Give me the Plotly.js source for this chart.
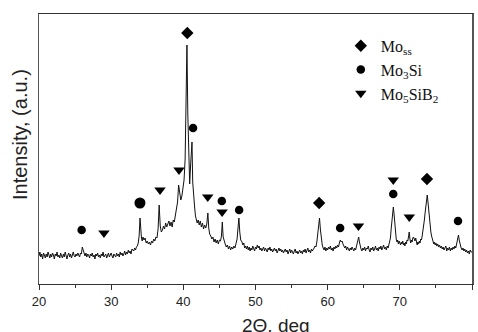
<!DOCTYPE html>
<html>
<head>
<meta charset="utf-8">
<script src="https://cdn.plot.ly/plotly-3.0.1.min.js"></script>
<style>html,body{margin:0;padding:0;background:#fff;}#chart{width:478px;height:332px;}</style>
</head>
<body>
<div id="chart"></div>
<script>
// XRD pattern: 2-theta (deg) and intensity (arbitrary units)
const twoTheta = [
 20,20.125,20.25,20.375,20.5,20.625,20.75,20.875,
 21,21.125,21.25,21.375,21.5,21.625,21.75,21.875,
 22,22.125,22.25,22.375,22.5,22.625,22.75,22.875,
 23,23.125,23.25,23.375,23.5,23.625,23.75,23.875,
 24,24.125,24.25,24.375,24.5,24.625,24.75,24.875,
 25,25.125,25.25,25.375,25.5,25.625,25.75,25.875,
 26,26.125,26.25,26.375,26.5,26.625,26.75,26.875,
 27,27.125,27.25,27.375,27.5,27.625,27.75,27.875,
 28,28.125,28.25,28.375,28.5,28.625,28.75,28.875,
 29,29.125,29.25,29.375,29.5,29.625,29.75,29.875,
 30,30.125,30.25,30.375,30.5,30.625,30.75,30.875,
 31,31.125,31.25,31.375,31.5,31.625,31.75,31.875,
 32,32.125,32.25,32.375,32.5,32.625,32.75,32.875,
 33,
 33.125,33.25,33.375,33.5,33.625,33.75,33.875,34.0,34.1,34.2,34.3,34.4,34.55,34.7,34.85,
 35.0,35.15,35.3,35.45,35.6,35.75,35.9,36.05,36.2,36.35,36.5,36.65,36.8,36.95,
 37.1,37.25,37.4,37.55,37.7,37.85,38.0,38.15,38.3,38.45,38.6,38.75,38.9,
 39.05,39.2,39.35,39.5,39.65,39.8,39.95,40.1,40.25,40.38,40.5,40.62,40.75,40.88,
 41.0,41.1,41.2,41.3,41.42,41.55,41.68,41.8,41.92,42.05,42.2,42.35,42.5,42.65,42.8,42.95,
 43.1,43.25,43.4,43.52,43.65,43.8,43.95,44.1,44.25,44.4,44.55,44.7,44.85,
 45.0,45.15,45.28,45.4,45.52,45.65,45.8,45.95,46.1,46.25,46.4,46.55,46.7,46.85,
 47.0,47.15,47.3,47.45,47.6,47.7,47.82,47.95,
 48.125,48.25,48.375,48.5,48.625,48.75,48.875,
 49,49.125,49.25,49.375,49.5,49.625,49.75,49.875,
 50,50.125,50.25,50.375,50.5,50.625,50.75,50.875,
 51,51.125,51.25,51.375,51.5,51.625,51.75,51.875,
 52,52.125,52.25,52.375,52.5,52.625,52.75,52.875,
 53,53.125,53.25,53.375,53.5,53.625,53.75,53.875,
 54,54.125,54.25,54.375,54.5,54.625,54.75,54.875,
 55,55.125,55.25,55.375,55.5,55.625,55.75,55.875,
 56,56.125,56.25,56.375,56.5,56.625,56.75,56.875,
 57,57.125,57.25,57.375,57.5,57.625,57.75,57.875,
 58,
 58.125,58.25,58.375,58.5,58.62,58.75,58.87,59.0,59.12,59.25,59.37,59.5,
 59.625,59.75,59.875,
 60,60.125,60.25,60.375,60.5,60.625,60.75,60.875,
 61,61.125,61.25,61.375,61.5,61.625,61.75,61.875,
 62,62.125,62.25,62.375,62.5,62.625,62.75,62.875,
 63,63.125,63.25,63.375,63.5,63.625,63.75,63.875,
 64.0,64.1,64.2,64.3,64.4,64.5,64.625,64.75,64.875,
 65,65.125,65.25,65.375,65.5,65.625,65.75,65.875,
 66,66.125,66.25,66.375,66.5,66.625,66.75,66.875,
 67,67.125,67.25,67.375,67.5,67.625,67.75,67.875,
 68,68.125,68.25,68.375,68.5,
 68.6,68.7,68.8,68.9,69.0,69.1,69.2,69.3,69.4,69.5,69.6,69.7,69.8,69.9,
 70.0,70.1,70.2,70.3,70.4,70.5,70.6,70.7,70.8,70.9,
 71.0,71.1,71.2,71.3,71.4,71.5,71.6,71.7,71.8,71.9,
 72.0,72.1,72.2,72.3,72.4,72.5,72.6,72.7,72.8,72.9,
 73.0,73.1,73.2,73.3,73.4,73.5,73.6,73.7,73.8,73.9,
 74.0,74.1,74.2,74.3,74.4,74.5,74.6,74.7,74.8,74.9,
 75,75.125,75.25,75.375,75.5,75.625,75.75,75.875,
 76,76.125,76.25,76.375,76.5,76.625,76.75,76.875,
 77,77.125,77.25,77.375,77.5,77.625,77.75,77.875,
 78,78.125,78.25,78.375,78.5,78.625,78.75,78.875,
 79,79.125,79.25,79.375,79.5,79.625,79.75,79.875,
 80
];
const intensity = [
 28,32,27,30,25,31,29,26,
 30,27,32,28,26,30,27,31,
 29,25,30,28,32,27,29,26,
 31,28,26,30,27,32,28,25,
 29,31,27,30,26,29,32,28,
 27,30,28,31,29,27,31,30,
 37,33,30,28,31,27,30,29,
 26,30,28,31,27,29,25,30,
 28,31,27,29,26,30,28,32,
 27,29,30,26,28,31,27,29,
 31,28,26,30,29,27,31,28,
 30,27,32,29,31,28,30,33,
 29,32,30,34,31,33,30,35,
 34,
 33,36,34,37,38,41,48,66,52,46,43,47,44,46,41,
 43,40,42,39,43,41,45,43,47,46,55,79,58,52,
 54,58,55,61,57,60,63,58,62,57,64,62,68,
 72,82,99,90,84,88,95,104,125,175,239,170,115,100,
 118,135,142,102,86,78,68,65,61,64,59,63,57,61,55,59,
 56,60,71,56,50,48,45,47,42,45,41,44,40,
 44,43,48,62,47,42,40,37,39,35,38,34,37,35,
 38,36,40,45,58,66,52,44,
 42,39,41,36,38,35,38,
 34,37,33,36,34,38,35,33,
 37,35,39,36,38,34,36,33,
 35,37,33,36,34,32,36,34,
 37,33,35,32,34,36,33,35,
 31,34,36,33,35,32,34,31,
 33,35,32,34,30,33,35,31,
 34,32,30,33,35,31,33,30,
 32,34,31,33,30,34,32,35,
 31,33,36,32,34,31,35,33,
 34,
 36,38,37,42,50,60,66,54,44,39,36,34,
 37,33,36,
 34,37,35,38,34,36,33,37,
 35,38,36,39,37,41,44,42,
 43,40,38,36,38,34,37,35,
 33,36,34,37,35,33,36,34,
 38,41,44,47,42,37,35,33,36,
 34,37,33,36,35,38,34,32,
 36,34,37,33,35,38,34,36,
 33,37,35,38,34,36,39,35,
 37,34,38,36,39,
 42,46,55,66,74,77,70,60,51,45,42,44,40,43,
 41,39,42,40,43,39,41,38,42,40,
 44,43,47,52,45,41,44,42,46,47,
 45,43,46,41,39,42,40,43,41,45,
 44,48,52,58,64,71,78,85,89,82,
 73,65,58,52,48,45,43,40,42,39,
 41,38,40,37,39,36,38,35,
 37,34,36,38,33,36,34,37,
 33,36,34,37,35,38,36,40,
 44,49,43,38,36,34,36,33,
 35,32,34,31,33,30,34,32,
 32
];

// Phase markers (peak identification)
const mossX = [40.55, 58.82, 73.76];
const mossY = [251, 81, 105];
const mo3siX = [25.91, 41.35, 45.33, 47.73, 61.73, 69.09, 78.06];
const mo3siY = [54, 156, 83, 74, 56, 90, 63];
const mo3siBigX = [33.99];
const mo3siBigY = [81];
const mo5sib2X = [29.0, 36.77, 39.4, 43.38, 45.37, 64.27, 69.09, 71.31];
const mo5sib2Y = [51, 94, 114, 87, 72, 58, 104, 67];

const traces = [
  {x: twoTheta, y: intensity, type: 'scatter', mode: 'lines',
   line: {color: '#111', width: 1}, showlegend: false, hoverinfo: 'skip'},
  {x: mossX, y: mossY, type: 'scatter', mode: 'markers', name: 'Mo<sub>ss</sub>',
   marker: {symbol: 'diamond', size: 9.5, color: '#000'}},
  {x: mo3siX, y: mo3siY, type: 'scatter', mode: 'markers', name: 'Mo<sub>3</sub>Si',
   marker: {symbol: 'circle', size: 8.5, color: '#000'}},
  {x: mo5sib2X, y: mo5sib2Y, type: 'scatter', mode: 'markers', name: 'Mo<sub>5</sub>SiB<sub>2</sub>',
   marker: {symbol: 'triangle-down', size: 10, color: '#000'}},
  {x: mo3siBigX, y: mo3siBigY, type: 'scatter', mode: 'markers', showlegend: false,
   marker: {symbol: 'circle', size: 11, color: '#000'}}
];

const layout = {
  width: 478, height: 332,
  margin: {l: 39, r: 6, t: 14, b: 48},
  paper_bgcolor: '#fff', plot_bgcolor: '#fff',
  font: {family: 'Liberation Sans, Arial, sans-serif', color: '#222', size: 13},
  xaxis: {
    range: [20, 80], dtick: 10, tick0: 20, ticks: 'outside', ticklen: 5, tickwidth: 1,
    tickcolor: '#333', showline: true, linecolor: '#333', linewidth: 1.2, mirror: true,
    showgrid: false, zeroline: false,
    minor: {dtick: 5, ticks: 'outside', ticklen: 3, tickcolor: '#333', showgrid: false},
    tickfont: {size: 13, color: '#222'}
  },
  yaxis: {
    range: [0, 270], showticklabels: false, ticks: '', showline: true, linecolor: '#555',
    linewidth: 1.5, mirror: true, showgrid: false, zeroline: false
  },
  legend: {
    x: 0.697, y: 0.945, xanchor: 'left', yanchor: 'top',
    bgcolor: 'rgba(0,0,0,0)', borderwidth: 0,
    font: {family: 'Liberation Serif, Times New Roman, serif', size: 16, color: '#111'}
  },
  annotations: [
    {text: 'Intensity, (a.u.)', xref: 'paper', yref: 'paper',
     x: (20 - 39) / 433, y: (284 - 135) / 270, xanchor: 'center', yanchor: 'middle',
     textangle: -90, showarrow: false,
     font: {family: 'Liberation Sans, Arial, sans-serif', size: 20, color: '#222'}},
    {text: '2\u0398, deg', xref: 'paper', yref: 'paper',
     x: (276 - 39) / 433, y: (284 - 313) / 270, xanchor: 'center', yanchor: 'top',
     showarrow: false,
     font: {family: 'Liberation Sans, Arial, sans-serif', size: 19, color: '#222'}}
  ]
};

Plotly.newPlot('chart', traces, layout, {displayModeBar: false, staticPlot: true});
</script>
</body>
</html>
